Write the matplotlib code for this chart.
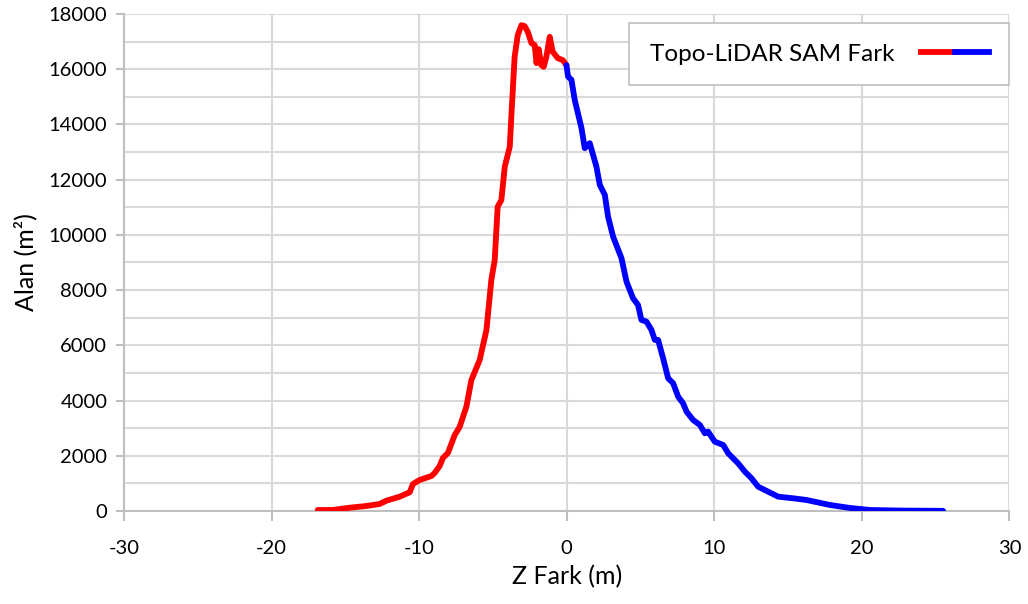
import matplotlib
matplotlib.use("Agg")
import matplotlib.pyplot as plt
from matplotlib.lines import Line2D
from matplotlib.legend_handler import HandlerTuple
from matplotlib.ticker import MultipleLocator

plt.rcParams['font.family'] = ['Lato', 'DejaVu Sans']
plt.rcParams['axes.unicode_minus'] = False

# Red part (negative elevation differences)
red_x = [-16.87, -15.86, -14.71, -13.58, -12.68, -12.22, -11.32, -10.64, -10.42, -9.97,
         -9.17, -8.95, -8.61, -8.39, -8.05, -7.59, -7.25, -6.80, -6.46, -5.90,
         -5.44, -5.11, -4.88, -4.68, -4.43, -4.20, -3.86, -3.73, -3.53, -3.32,
         -3.07, -2.85, -2.64, -2.39, -2.17, -2.05, -1.90, -1.72, -1.56, -1.38,
         -1.15, -0.95, -0.61, -0.27, -0.02]
red_y = [36, 36, 119, 181, 253, 373, 518, 677, 977, 1122,
         1267, 1376, 1629, 1919, 2100, 2751, 3052, 3776, 4742, 5466,
         6552, 8362, 9086, 11016, 11258, 12464, 13188, 14516, 16446, 17231,
         17593, 17557, 17351, 16942, 16869, 16218, 16724, 16145, 16084, 16446,
         17170, 16627, 16399, 16326, 16145]

# Blue part (positive elevation differences)
blue_x = [-0.02, 0.09, 0.32, 0.54, 1.00, 1.22, 1.56, 2.01, 2.24, 2.58,
          2.80, 3.14, 3.71, 4.05, 4.49, 4.83, 5.06, 5.40, 5.74, 5.97,
          6.19, 6.53, 6.87, 7.21, 7.55, 7.88, 8.12, 8.56, 9.02, 9.36,
          9.58, 10.03, 10.60, 10.94, 11.61, 12.07, 12.52, 12.97, 13.65, 14.33,
          15.34, 16.25, 17.83, 19.19, 20.54, 22.60, 25.50]
blue_y = [16145, 15730, 15611, 14887, 13862, 13137, 13318, 12471, 11808, 11446,
          10660, 9935, 9153, 8305, 7704, 7461, 6918, 6857, 6556, 6194,
          6194, 5531, 4806, 4625, 4140, 3901, 3597, 3296, 3115, 2814,
          2872, 2510, 2391, 2090, 1728, 1424, 1184, 880, 699, 518,
          460, 398, 217, 109, 36, 15, 5]

series_label = "Topo-LiDAR SAM Fark"
x_label = "Z Fark (m)"
y_label = "Alan (m²)"

fig = plt.figure(figsize=(10.28, 6.04), dpi=100)
ax = fig.add_axes([0.1206, 0.154, 0.8614, 0.823])

lw = 4.2
ax.plot(red_x, red_y, color='#ff0000', lw=lw, solid_capstyle='round', solid_joinstyle='round', zorder=3)
ax.plot(blue_x, blue_y, color='#0000ff', lw=lw, solid_capstyle='round', solid_joinstyle='round', zorder=3)

ax.set_xlim(-30, 30)
ax.set_ylim(0, 18000)
ax.xaxis.set_major_locator(MultipleLocator(10))
ax.yaxis.set_major_locator(MultipleLocator(2000))
ax.yaxis.set_minor_locator(MultipleLocator(1000))

grid_c = '#d9d9d9'
ax.grid(True, which='major', axis='x', color=grid_c, lw=1.5)
ax.grid(True, which='both', axis='y', color=grid_c, lw=1.5)
ax.set_axisbelow(True)
for s in ['top', 'right']:
    ax.spines[s].set_visible(False)
for s in ['left', 'bottom']:
    ax.spines[s].set_color('#bfbfbf')
    ax.spines[s].set_linewidth(1.5)

ax.tick_params(axis='x', which='major', length=7, width=1.5, color='#bfbfbf', pad=14, labelsize=14.5)
ax.tick_params(axis='y', which='major', length=6, width=1.5, color='#bfbfbf', pad=6, labelsize=14.5)
ax.tick_params(axis='y', which='minor', length=0)

ax.set_xlabel(x_label, fontsize=18, labelpad=6)
ax.set_ylabel(y_label, fontsize=18, labelpad=8)

h_red = Line2D([], [], color='#ff0000', lw=lw)
h_blue = Line2D([], [], color='#0000ff', lw=lw)
leg = ax.legend([(h_red, h_blue)], [series_label],
                handler_map={tuple: HandlerTuple(ndivide=None, pad=0)},
                loc='upper right', bbox_to_anchor=(1.0, 0.982), markerfirst=False,
                fontsize=17.5, handlelength=2.8, handletextpad=1.1,
                borderpad=0.85, borderaxespad=0.0, fancybox=False, framealpha=1,
                edgecolor='#bfbfbf')
leg.get_frame().set_linewidth(1.2)

fig.savefig("out.png", dpi=100)
